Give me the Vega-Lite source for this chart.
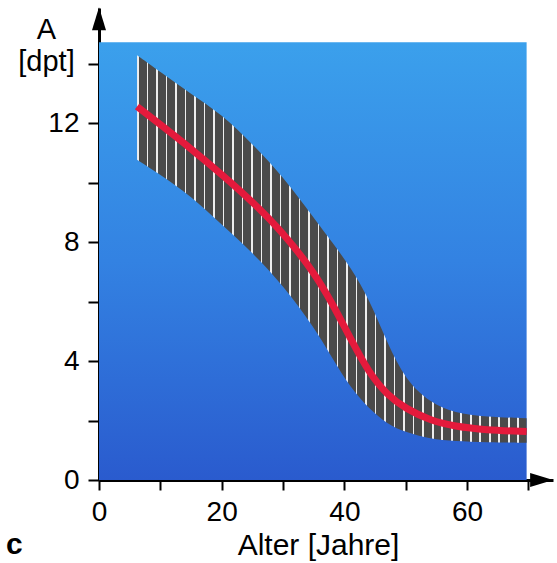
{
  "$schema": "https://vega.github.io/schema/vega-lite/v6.json",
  "width": 454,
  "height": 472,
  "autosize": "none",
  "padding": {"left": 99, "top": 8, "right": 4, "bottom": 83},
  "background": "white",
  "config": {
    "view": {"stroke": null},
    "font": "Liberation Sans",
    "axis": {"grid": false, "domainColor": "black", "domainWidth": 3, "tickColor": "black", "tickWidth": 2, "labelColor": "black", "labelFont": "Liberation Sans", "titleFont": "Liberation Sans", "titleColor": "black", "titleFontWeight": "normal"}
  },
  "title": {"text": "c", "orient": "bottom", "anchor": "start", "frame": "group", "dx": -93, "offset": -30, "fontSize": 30, "fontWeight": "bold", "color": "black", "font": "Liberation Sans"},
  "data": {"values": [
    {"age": 6.2, "mid": 12.56, "upper": 14.28, "lower": 10.77},
    {"age": 10, "mid": 11.95, "upper": 13.72, "lower": 10.27},
    {"age": 15, "mid": 11.14, "upper": 12.98, "lower": 9.55},
    {"age": 20, "mid": 10.28, "upper": 12.3, "lower": 8.58},
    {"age": 25, "mid": 9.36, "upper": 11.3, "lower": 7.65},
    {"age": 30, "mid": 8.32, "upper": 10.2, "lower": 6.55},
    {"age": 35, "mid": 7.0, "upper": 8.82, "lower": 5.15},
    {"age": 38, "mid": 5.95, "upper": 8.0, "lower": 4.1},
    {"age": 41, "mid": 4.75, "upper": 7.15, "lower": 3.1},
    {"age": 44, "mid": 3.6, "upper": 6.1, "lower": 2.4},
    {"age": 47, "mid": 2.85, "upper": 4.6, "lower": 1.88},
    {"age": 50, "mid": 2.4, "upper": 3.35, "lower": 1.6},
    {"age": 54, "mid": 2.0, "upper": 2.6, "lower": 1.38},
    {"age": 58, "mid": 1.8, "upper": 2.25, "lower": 1.3},
    {"age": 63, "mid": 1.68, "upper": 2.12, "lower": 1.27},
    {"age": 69.7, "mid": 1.63, "upper": 2.08, "lower": 1.25}
  ]},
  "encoding": {
    "x": {"type": "quantitative", "scale": {"domain": [0, 74], "nice": false, "zero": false}},
    "y": {"type": "quantitative", "scale": {"domain": [0, 15.87], "nice": false, "zero": false}}
  },
  "layer": [
    {
      "data": {"values": [{}]},
      "mark": {"type": "rect", "fill": {"gradient": "linear", "x1": 0, "y1": 0, "x2": 0, "y2": 1, "stops": [{"offset": 0, "color": "#3ba0ec"}, {"offset": 0.5, "color": "#3382e2"}, {"offset": 1, "color": "#2a5bce"}]}},
      "encoding": {
        "x": {"datum": 0, "type": "quantitative"},
        "x2": {"datum": 69.7},
        "y": {"datum": 0, "type": "quantitative"},
        "y2": {"datum": 14.72}
      }
    },
    {
      "mark": {"type": "area", "interpolate": "basis", "fill": {"gradient": "linear", "x1": 0, "y1": 0, "x2": 1, "y2": 0, "stops": [
        {"offset": 0, "color": "#eeeeee"}, {"offset": 0.00488, "color": "#eeeeee"}, {"offset": 0.00488, "color": "#4a4a4a"}, {"offset": 0.02439, "color": "#4a4a4a"},
        {"offset": 0.02439, "color": "#eeeeee"}, {"offset": 0.02927, "color": "#eeeeee"}, {"offset": 0.02927, "color": "#4a4a4a"}, {"offset": 0.04878, "color": "#4a4a4a"},
        {"offset": 0.04878, "color": "#eeeeee"}, {"offset": 0.05366, "color": "#eeeeee"}, {"offset": 0.05366, "color": "#4a4a4a"}, {"offset": 0.07317, "color": "#4a4a4a"},
        {"offset": 0.07317, "color": "#eeeeee"}, {"offset": 0.07805, "color": "#eeeeee"}, {"offset": 0.07805, "color": "#4a4a4a"}, {"offset": 0.09756, "color": "#4a4a4a"},
        {"offset": 0.09756, "color": "#eeeeee"}, {"offset": 0.10244, "color": "#eeeeee"}, {"offset": 0.10244, "color": "#4a4a4a"}, {"offset": 0.12195, "color": "#4a4a4a"},
        {"offset": 0.12195, "color": "#eeeeee"}, {"offset": 0.12683, "color": "#eeeeee"}, {"offset": 0.12683, "color": "#4a4a4a"}, {"offset": 0.14634, "color": "#4a4a4a"},
        {"offset": 0.14634, "color": "#eeeeee"}, {"offset": 0.15122, "color": "#eeeeee"}, {"offset": 0.15122, "color": "#4a4a4a"}, {"offset": 0.17073, "color": "#4a4a4a"},
        {"offset": 0.17073, "color": "#eeeeee"}, {"offset": 0.17561, "color": "#eeeeee"}, {"offset": 0.17561, "color": "#4a4a4a"}, {"offset": 0.19512, "color": "#4a4a4a"},
        {"offset": 0.19512, "color": "#eeeeee"}, {"offset": 0.2, "color": "#eeeeee"}, {"offset": 0.2, "color": "#4a4a4a"}, {"offset": 0.21951, "color": "#4a4a4a"},
        {"offset": 0.21951, "color": "#eeeeee"}, {"offset": 0.22439, "color": "#eeeeee"}, {"offset": 0.22439, "color": "#4a4a4a"}, {"offset": 0.2439, "color": "#4a4a4a"},
        {"offset": 0.2439, "color": "#eeeeee"}, {"offset": 0.24878, "color": "#eeeeee"}, {"offset": 0.24878, "color": "#4a4a4a"}, {"offset": 0.26829, "color": "#4a4a4a"},
        {"offset": 0.26829, "color": "#eeeeee"}, {"offset": 0.27317, "color": "#eeeeee"}, {"offset": 0.27317, "color": "#4a4a4a"}, {"offset": 0.29268, "color": "#4a4a4a"},
        {"offset": 0.29268, "color": "#eeeeee"}, {"offset": 0.29756, "color": "#eeeeee"}, {"offset": 0.29756, "color": "#4a4a4a"}, {"offset": 0.31707, "color": "#4a4a4a"},
        {"offset": 0.31707, "color": "#eeeeee"}, {"offset": 0.32195, "color": "#eeeeee"}, {"offset": 0.32195, "color": "#4a4a4a"}, {"offset": 0.34146, "color": "#4a4a4a"},
        {"offset": 0.34146, "color": "#eeeeee"}, {"offset": 0.34634, "color": "#eeeeee"}, {"offset": 0.34634, "color": "#4a4a4a"}, {"offset": 0.36585, "color": "#4a4a4a"},
        {"offset": 0.36585, "color": "#eeeeee"}, {"offset": 0.37073, "color": "#eeeeee"}, {"offset": 0.37073, "color": "#4a4a4a"}, {"offset": 0.39024, "color": "#4a4a4a"},
        {"offset": 0.39024, "color": "#eeeeee"}, {"offset": 0.39512, "color": "#eeeeee"}, {"offset": 0.39512, "color": "#4a4a4a"}, {"offset": 0.41463, "color": "#4a4a4a"},
        {"offset": 0.41463, "color": "#eeeeee"}, {"offset": 0.41951, "color": "#eeeeee"}, {"offset": 0.41951, "color": "#4a4a4a"}, {"offset": 0.43902, "color": "#4a4a4a"},
        {"offset": 0.43902, "color": "#eeeeee"}, {"offset": 0.4439, "color": "#eeeeee"}, {"offset": 0.4439, "color": "#4a4a4a"}, {"offset": 0.46341, "color": "#4a4a4a"},
        {"offset": 0.46341, "color": "#eeeeee"}, {"offset": 0.46829, "color": "#eeeeee"}, {"offset": 0.46829, "color": "#4a4a4a"}, {"offset": 0.4878, "color": "#4a4a4a"},
        {"offset": 0.4878, "color": "#eeeeee"}, {"offset": 0.49268, "color": "#eeeeee"}, {"offset": 0.49268, "color": "#4a4a4a"}, {"offset": 0.5122, "color": "#4a4a4a"},
        {"offset": 0.5122, "color": "#eeeeee"}, {"offset": 0.51708, "color": "#eeeeee"}, {"offset": 0.51708, "color": "#4a4a4a"}, {"offset": 0.53659, "color": "#4a4a4a"},
        {"offset": 0.53659, "color": "#eeeeee"}, {"offset": 0.54147, "color": "#eeeeee"}, {"offset": 0.54147, "color": "#4a4a4a"}, {"offset": 0.56098, "color": "#4a4a4a"},
        {"offset": 0.56098, "color": "#eeeeee"}, {"offset": 0.56586, "color": "#eeeeee"}, {"offset": 0.56586, "color": "#4a4a4a"}, {"offset": 0.58537, "color": "#4a4a4a"},
        {"offset": 0.58537, "color": "#eeeeee"}, {"offset": 0.59025, "color": "#eeeeee"}, {"offset": 0.59025, "color": "#4a4a4a"}, {"offset": 0.60976, "color": "#4a4a4a"},
        {"offset": 0.60976, "color": "#eeeeee"}, {"offset": 0.61464, "color": "#eeeeee"}, {"offset": 0.61464, "color": "#4a4a4a"}, {"offset": 0.63415, "color": "#4a4a4a"},
        {"offset": 0.63415, "color": "#eeeeee"}, {"offset": 0.63903, "color": "#eeeeee"}, {"offset": 0.63903, "color": "#4a4a4a"}, {"offset": 0.65854, "color": "#4a4a4a"},
        {"offset": 0.65854, "color": "#eeeeee"}, {"offset": 0.66342, "color": "#eeeeee"}, {"offset": 0.66342, "color": "#4a4a4a"}, {"offset": 0.68293, "color": "#4a4a4a"},
        {"offset": 0.68293, "color": "#eeeeee"}, {"offset": 0.68781, "color": "#eeeeee"}, {"offset": 0.68781, "color": "#4a4a4a"}, {"offset": 0.70732, "color": "#4a4a4a"},
        {"offset": 0.70732, "color": "#eeeeee"}, {"offset": 0.7122, "color": "#eeeeee"}, {"offset": 0.7122, "color": "#4a4a4a"}, {"offset": 0.73171, "color": "#4a4a4a"},
        {"offset": 0.73171, "color": "#eeeeee"}, {"offset": 0.73659, "color": "#eeeeee"}, {"offset": 0.73659, "color": "#4a4a4a"}, {"offset": 0.7561, "color": "#4a4a4a"},
        {"offset": 0.7561, "color": "#eeeeee"}, {"offset": 0.76098, "color": "#eeeeee"}, {"offset": 0.76098, "color": "#4a4a4a"}, {"offset": 0.78049, "color": "#4a4a4a"},
        {"offset": 0.78049, "color": "#eeeeee"}, {"offset": 0.78537, "color": "#eeeeee"}, {"offset": 0.78537, "color": "#4a4a4a"}, {"offset": 0.80488, "color": "#4a4a4a"},
        {"offset": 0.80488, "color": "#eeeeee"}, {"offset": 0.80976, "color": "#eeeeee"}, {"offset": 0.80976, "color": "#4a4a4a"}, {"offset": 0.82927, "color": "#4a4a4a"},
        {"offset": 0.82927, "color": "#eeeeee"}, {"offset": 0.83415, "color": "#eeeeee"}, {"offset": 0.83415, "color": "#4a4a4a"}, {"offset": 0.85366, "color": "#4a4a4a"},
        {"offset": 0.85366, "color": "#eeeeee"}, {"offset": 0.85854, "color": "#eeeeee"}, {"offset": 0.85854, "color": "#4a4a4a"}, {"offset": 0.87805, "color": "#4a4a4a"},
        {"offset": 0.87805, "color": "#eeeeee"}, {"offset": 0.88293, "color": "#eeeeee"}, {"offset": 0.88293, "color": "#4a4a4a"}, {"offset": 0.90244, "color": "#4a4a4a"},
        {"offset": 0.90244, "color": "#eeeeee"}, {"offset": 0.90732, "color": "#eeeeee"}, {"offset": 0.90732, "color": "#4a4a4a"}, {"offset": 0.92683, "color": "#4a4a4a"},
        {"offset": 0.92683, "color": "#eeeeee"}, {"offset": 0.93171, "color": "#eeeeee"}, {"offset": 0.93171, "color": "#4a4a4a"}, {"offset": 0.95122, "color": "#4a4a4a"},
        {"offset": 0.95122, "color": "#eeeeee"}, {"offset": 0.9561, "color": "#eeeeee"}, {"offset": 0.9561, "color": "#4a4a4a"}, {"offset": 0.97561, "color": "#4a4a4a"},
        {"offset": 0.97561, "color": "#eeeeee"}, {"offset": 0.98049, "color": "#eeeeee"}, {"offset": 0.98049, "color": "#4a4a4a"}, {"offset": 1, "color": "#4a4a4a"}
      ]}},
      "encoding": {
        "x": {"field": "age", "type": "quantitative"},
        "y": {"field": "upper", "type": "quantitative"},
        "y2": {"field": "lower"}
      }
    },
    {
      "mark": {"type": "line", "interpolate": "basis", "color": "#e41a3c", "strokeWidth": 7, "strokeCap": "butt"},
      "encoding": {
        "x": {"field": "age", "type": "quantitative", "axis": {"values": [0, 10, 20, 30, 40, 50, 60, 70], "labelExpr": "datum.value % 20 == 0 ? datum.label : ''", "tickSize": 10, "labelFontSize": 28, "labelPadding": 8, "labelFlush": false, "title": "Alter [Jahre]", "titleFontSize": 30, "titlePadding": 4, "titleX": 219, "titleAlign": "center"}},
        "y": {"field": "mid", "type": "quantitative", "axis": {"values": [0, 2, 4, 6, 8, 10, 12, 14], "labelExpr": "datum.value % 4 == 0 ? datum.label : ''", "tickSize": 11, "labelFontSize": 28, "labelPadding": 9, "labelFlush": false, "title": ["A", "[dpt]"], "titleFontSize": 29, "titleAngle": 0, "titleAlign": "center", "titleBaseline": "alphabetic", "titleX": -53, "titleY": 30, "titleLineHeight": 32}}
      }
    },
    {
      "data": {"values": [{}]},
      "mark": {"type": "point", "shape": "M0,-1L0.61,1L-0.61,1Z", "filled": true, "color": "black", "size": 529, "opacity": 1},
      "encoding": {
        "x": {"datum": 0, "type": "quantitative"},
        "y": {"datum": 15.51, "type": "quantitative"}
      }
    },
    {
      "data": {"values": [{}]},
      "mark": {"type": "point", "shape": "M1,0L-1,0.61L-1,-0.61Z", "filled": true, "color": "black", "size": 529, "opacity": 1},
      "encoding": {
        "x": {"datum": 72.15, "type": "quantitative"},
        "y": {"datum": 0, "type": "quantitative"}
      }
    }
  ]
}
